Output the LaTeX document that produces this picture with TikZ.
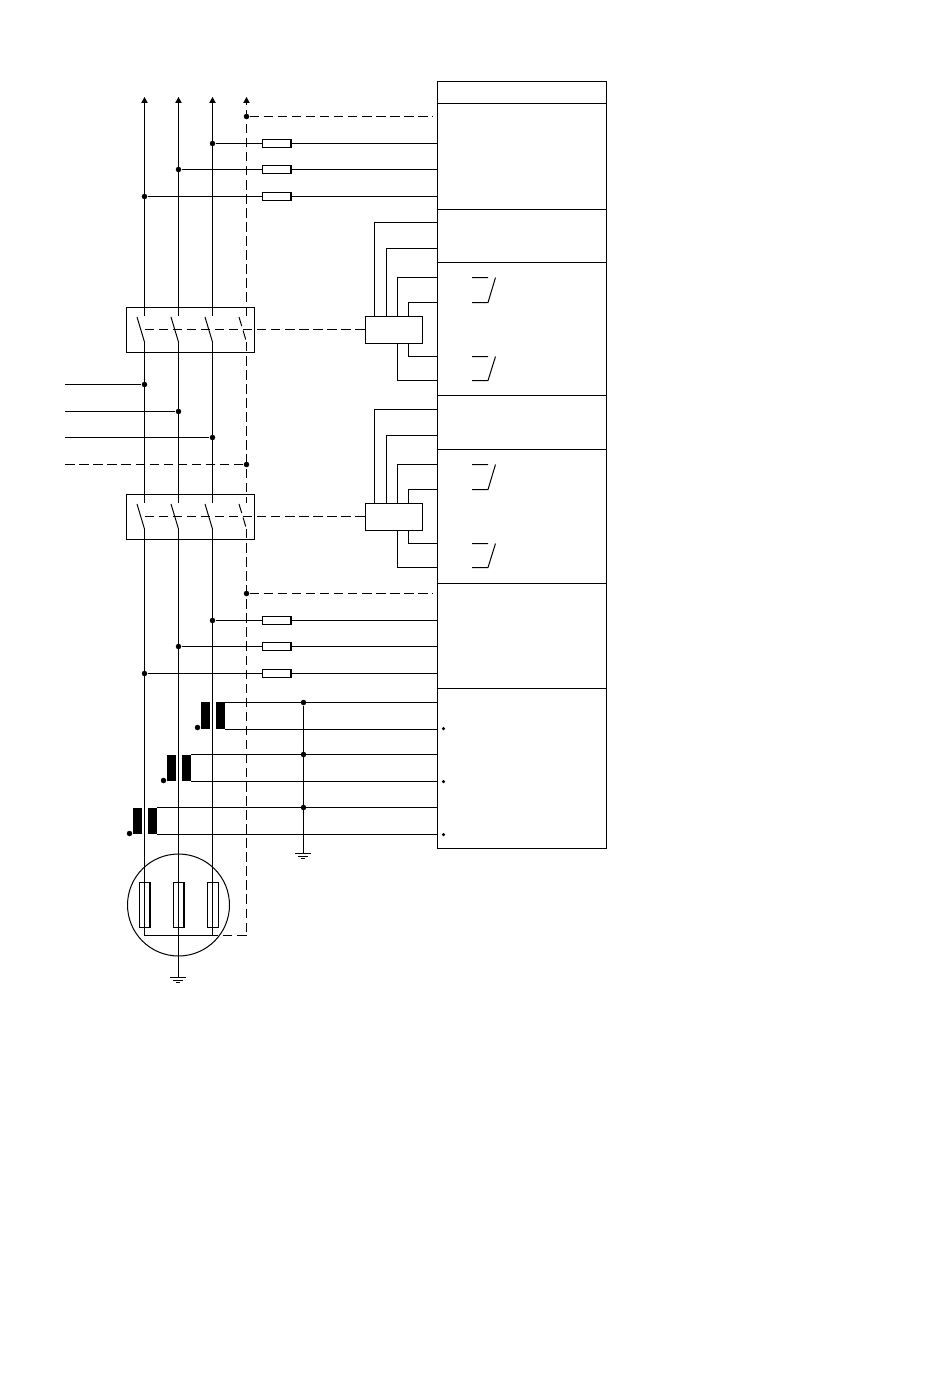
\documentclass[tikz,border=0pt]{standalone}
\usetikzlibrary{calc,arrows.meta}

\tikzset{
	wire/.style={line width=0.57pt},
	dashwire/.style={wire,dash pattern=on 5.4pt off 2.6pt},
	dot/.style={circle,fill=black,inner sep=0pt,minimum size=0.11cm},
	minidot/.style={circle,fill=black,inner sep=0pt,minimum size=0.07cm},
	fuse/.style={draw,wire,fill=white,inner sep=0pt,minimum width=0.58cm,minimum height=0.16cm},
	switchbox/.style={draw,wire,inner sep=0pt,minimum width=2.56cm,minimum height=0.9cm},
	relaybox/.style={draw,wire,fill=white,inner sep=0pt,minimum width=1.14cm,minimum height=0.54cm},
	ctbar/.style={fill=black,inner sep=0pt,minimum width=0.18cm,minimum height=0.53cm},
	winding/.style={draw,wire,inner sep=0pt,minimum width=0.22cm,minimum height=0.9cm},
}

\begin{document}
\begin{tikzpicture}[x=0.02cm,y=-0.02cm,>={Stealth[length=3.4pt,width=3.6pt,inset=0pt]}]
	\useasboundingbox (0,0) rectangle (950,1387);
	% panel on the right
	\node[draw,wire,inner sep=0pt,minimum width=3.38cm,minimum height=15.34cm] (panel) at (522,465) {};
	\foreach \y in {103.5,209.5,262.5,395.5,449.5,583.5,688.5}{
		\coordinate (dv) at (0,\y);
		\draw[wire] (dv -| panel.west)--(dv -| panel.east);
	};
	% both switch banks with their relays
	\foreach \s/\dy in {A/0,B/187}{
		\node[switchbox] (sw\s) at (190.5,330+\dy) {};
		\node[relaybox] (rel\s) at (394,330+\dy) {};
		\foreach \p/\x in {1/144.5,2/178.5,3/212.5,N/246.5}{
			\coordinate (in\s\p) at (\x,316+\dy);
			\coordinate (out\s\p) at (\x,342+\dy);
			\coordinate (bl\s\p) at (\x-7.5,317+\dy);
		};
		\foreach \p in {1,2,3} \draw[wire] (bl\s\p)--(out\s\p);
		\draw[dashwire] (bl\s N)--(out\s N);
		\coordinate (lk\s) at (144.5,329.5+\dy);
		\draw[dashwire] (lk\s)--(lk\s -| rel\s.west);
		\foreach \i/\x/\y in {1/374.5/222.5,2/386.5/248.5,3/397.5/277.5,4/408.5/302.5}{
			\coordinate (rt\s\i) at (\x,\y+\dy);
			\draw[wire] (rel\s.north -| rt\s\i)|-(rt\s\i -| panel.west);
		};
		\foreach \i/\x/\y in {1/408.5/356.5,2/397.5/380.5}{
			\coordinate (rb\s\i) at (\x,\y+\dy);
			\draw[wire] (rel\s.south -| rb\s\i)|-(rb\s\i -| panel.west);
		};
		\foreach \y/\yb in {277.5/302.5,356.5/380.5}{
			\draw[wire] (472,\y+\dy)--++(16,0) (472,\yb+\dy)--++(16,0)--(495.5,\y+\dy);
		};
	};
	% the buses
	\foreach \p/\x in {1/144.5,2/178.5,3/212.5,N/246.5}{
		\coordinate (top\p) at (\x,97);
		\coordinate (star\p) at (\x,935.5);
	};
	\foreach \p in {1,2,3}{
		\draw[wire,->] (inA\p)--(top\p);
		\draw[wire] (outA\p)--(inB\p);
		\draw[wire] (outB\p)--(star\p);
	};
	\draw[dashwire,->] (inAN)--(topN);
	\draw[dashwire] (outAN)--(inBN);
	\draw[dashwire] (outBN)--(starN);
	% fused taps
	\foreach \f/\x/\y in {A/212.5/143.5,B/178.5/169.5,C/144.5/196.5,D/212.5/620.5,E/178.5/646.5,F/144.5/673.5}{
		\node[dot] (tap\f) at (\x,\y) {};
		\node[fuse] (fuse\f) at (276.5,\y) {};
		\draw[wire] (tap\f)--(fuse\f);
		\draw[wire] (fuse\f)--(fuse\f -| panel.west);
	};
	\foreach \f/\y in {A/116.5,B/593.5}{
		\node[dot] (ntap\f) at (246.5,\y) {};
		\coordinate (nend\f) at (433,\y);
		\draw[dashwire] (ntap\f)--(nend\f);
	};
	% feeders from the left
	\foreach \f/\x/\y in {1/144.5/384.5,2/178.5/411.5,3/212.5/437.5}{
		\node[dot] (feed\f) at (\x,\y) {};
		\coordinate (fend\f) at (65,\y);
		\draw[wire] (fend\f)--(feed\f);
	};
	\node[dot] (feedN) at (246.5,464.5) {};
	\coordinate (fendN) at (65,464.5);
	\draw[dashwire] (feedN)--(fendN);
	% current transformers
	\foreach \i/\x/\y/\yb in {1/201/702.5/728.5,2/167/754.5/781.5,3/133/807.5/834.5}{
		\node[ctbar] (cta\i) at (\x+4.5,{(\y+\yb)/2}) {};
		\node[ctbar] (ctb\i) at (\x+19.5,{(\y+\yb)/2}) {};
		\node[dot] (ctdot\i) at (\x-3.5,\yb-1) {};
		\node[minidot] (mark\i) at (443.5,\yb) {};
		\node[dot] (com\i) at (303.5,\y) {};
		\draw[wire] (ctb\i.east |- com\i)--(com\i -| panel.west);
		\draw[wire] (ctb\i.south east)--(ctb\i.south east -| panel.west);
	};
	\coordinate (gndA) at (303.5,853.5);
	\draw[wire] (com1)--(gndA);
	% motor
	\node[draw,wire,circle,inner sep=0pt,minimum size=2.04cm] (motor) at (178.5,905) {};
	\foreach \p/\x in {1/144.5,2/178.5,3/212.5}{
		\node[winding] (wind\p) at (\x,905) {};
	};
	\coordinate (gndB) at (178.5,977.5);
	\draw[wire] (star2)--(gndB);
	\draw[wire] (star1)--(star3);
	\draw[dashwire] (starN)--(star3);
	\foreach \g in {gndA,gndB}{
		\draw[wire] ($(\g)+(-8.5,0)$)--++(16,0) ($(\g)+(-5.5,3)$)--++(10,0) ($(\g)+(-2.5,5)$)--++(4,0);
	};
\end{tikzpicture}
\end{document}
